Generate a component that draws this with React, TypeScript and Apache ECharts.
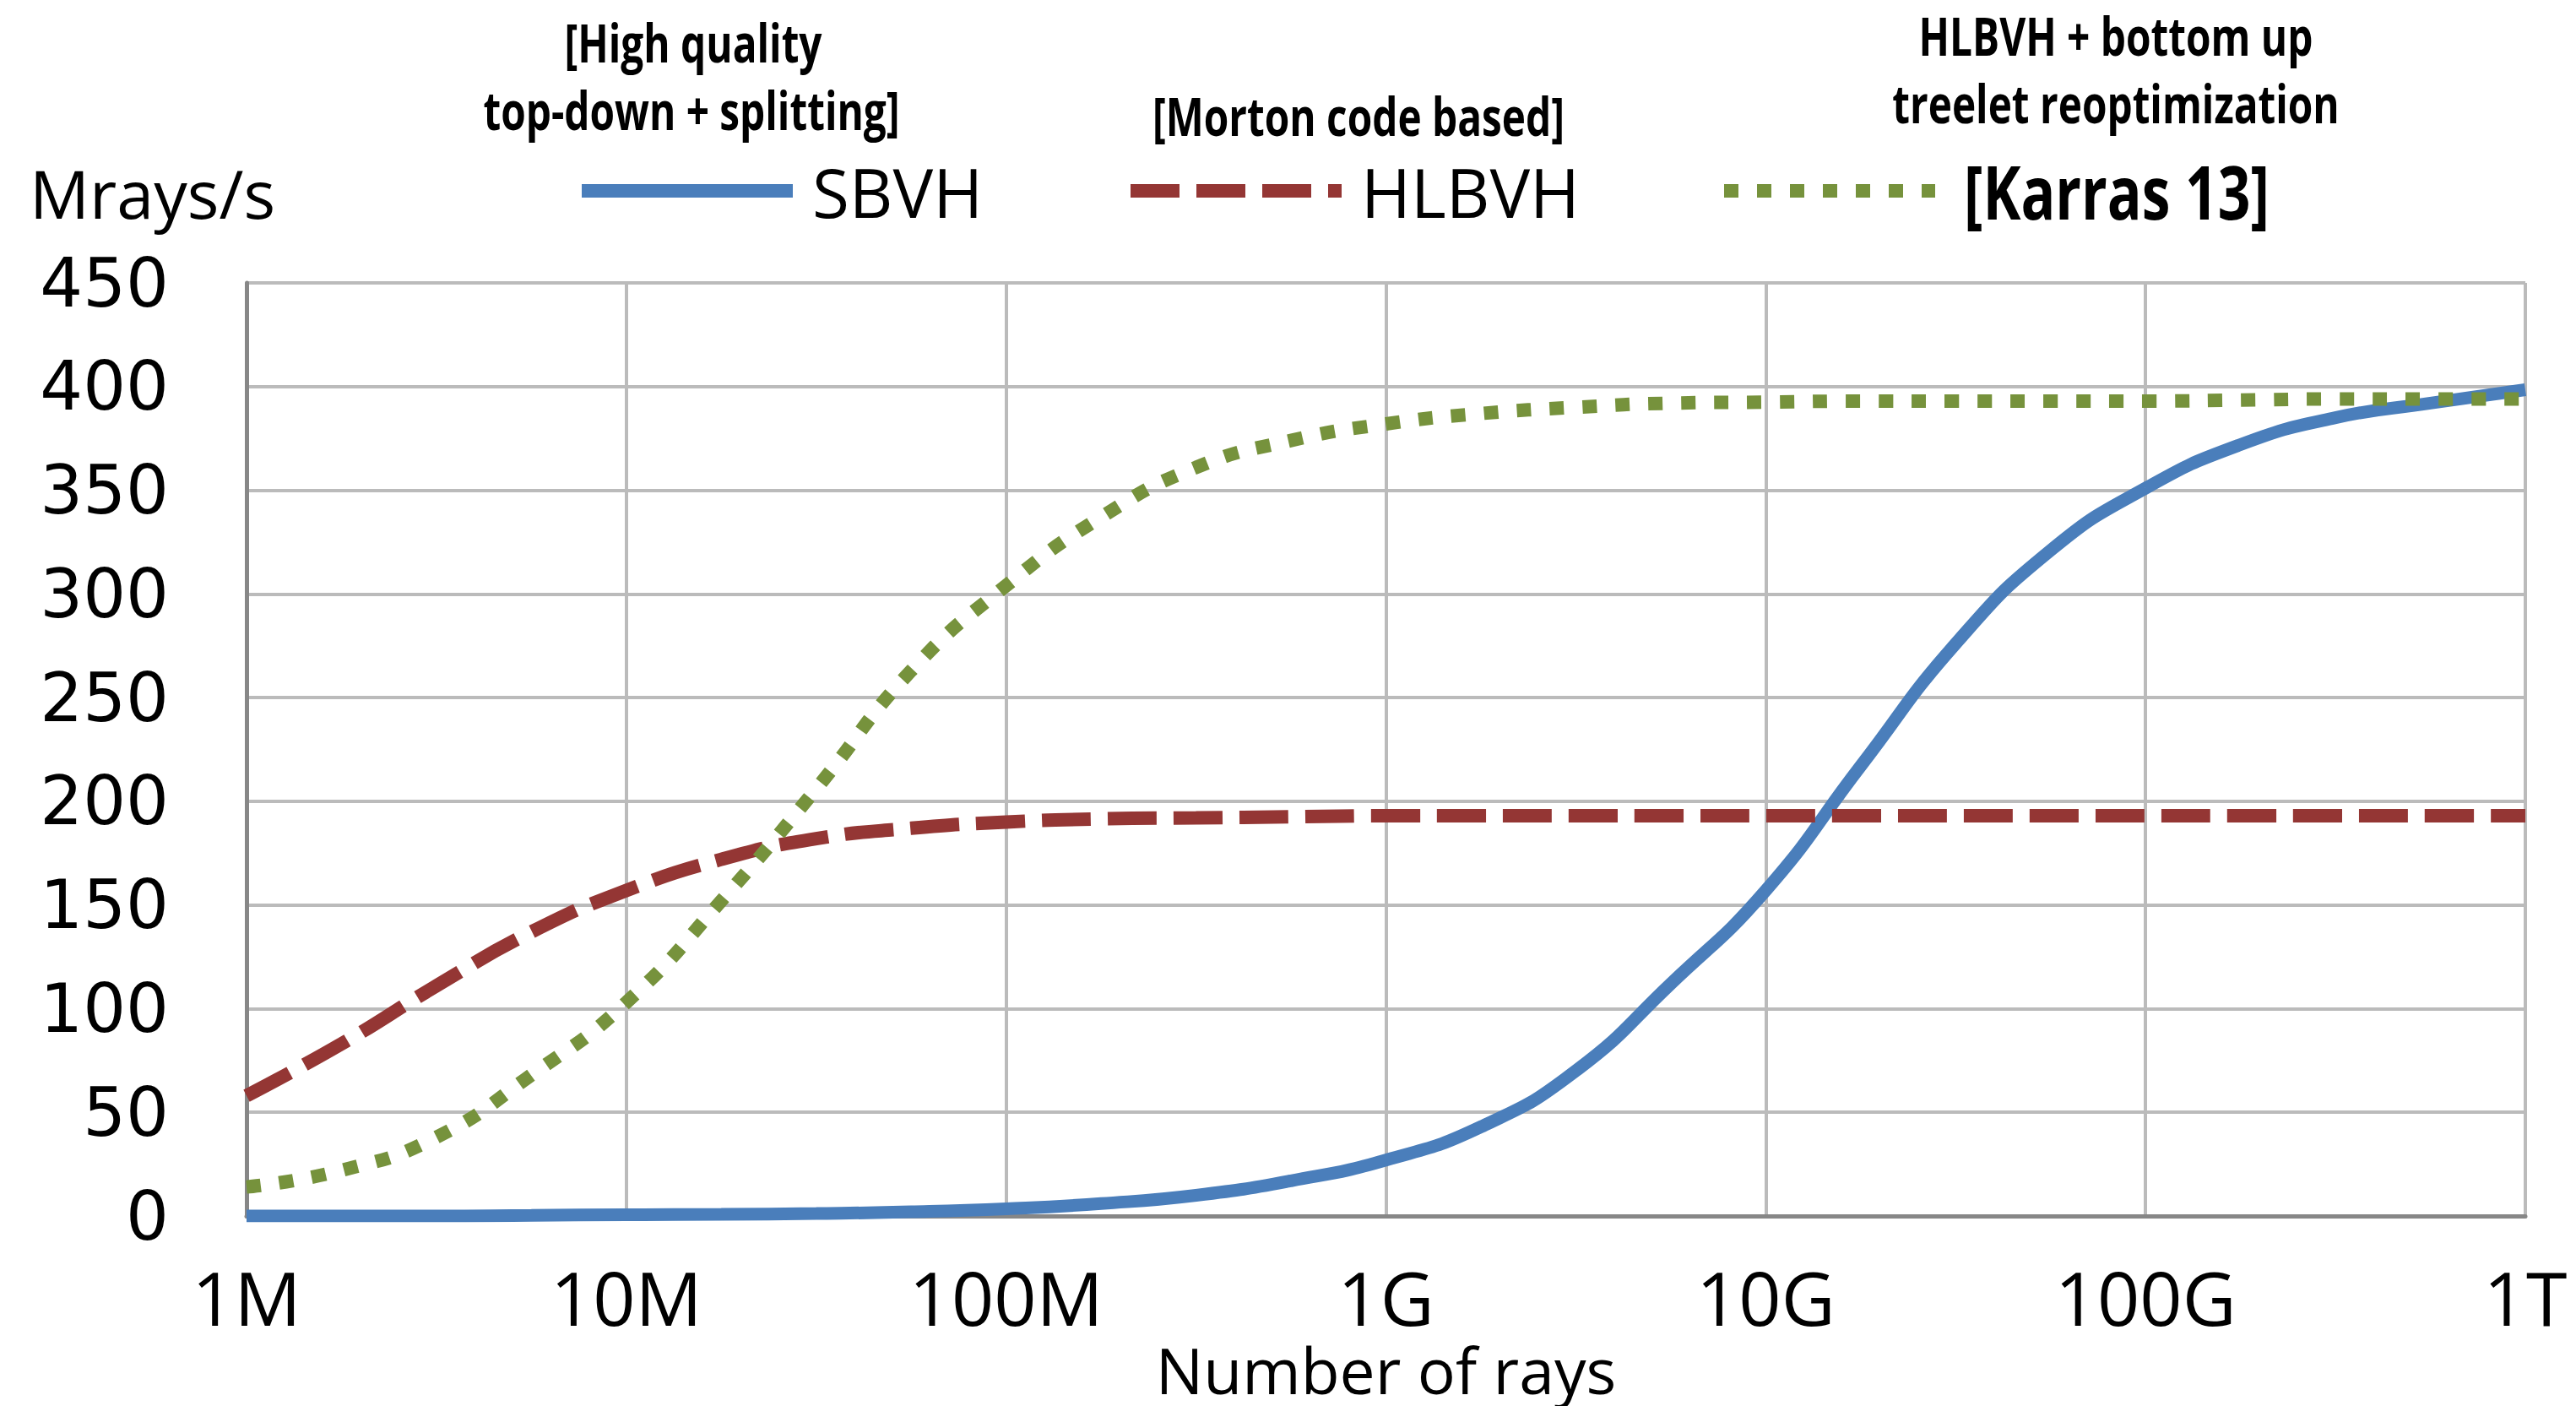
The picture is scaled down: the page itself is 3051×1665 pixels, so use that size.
import React, { useEffect, useRef } from "react";
import * as echarts from "echarts";

// log10(number of rays)
const xLog = [6, 6.25, 6.5, 6.75, 7, 7.25, 7.5, 7.75, 8, 8.25, 8.5, 8.75, 9, 9.25, 9.5, 9.75, 10, 10.25, 10.5, 10.75, 11, 11.25, 11.5, 11.75, 12];
const xTickLabels = ["1M", "10M", "100M", "1G", "10G", "100G", "1T"];
const sbvh = [0, 0, 0, 0.3, 0.6, 0.8, 1.2, 2, 3.5, 6, 10, 17, 27, 43, 70, 112, 157, 217, 276, 321, 351, 372, 385, 392, 398.5];
const hlbvh = [58, 83, 111, 137, 157, 172, 182, 187, 190, 191.5, 192, 192.5, 193, 193, 193, 193, 193, 193, 193, 193, 193, 193, 193, 193, 193];
const karras = [14, 22, 38, 68, 103, 152, 206, 263, 304, 337, 361, 374, 382, 387, 390, 392, 392.5, 393, 393, 393, 393, 393.5, 394, 394, 394];
const seriesNames = ["SBVH", "HLBVH", "[Karras 13]"];
const yTicks = { min: 0, max: 450, interval: 50 };

const pairs = (ys: number[]) => xLog.map((x, i) => [x, ys[i]]);

export default function App() {
  const ref = useRef<HTMLDivElement>(null);
  useEffect(() => {
    const chart = echarts.init(ref.current!, undefined, { renderer: "svg" });
    const note = (text: string, x: number, y: number, sx: number, size = 62) => ({
      type: "text",
      x,
      y,
      scaleX: sx,
      style: {
        text,
        textAlign: "center",
        textVerticalAlign: "middle",
        font: `bold ${size}px "Open Sans"`,
        fill: "#000",
      },
    });
    const legendBase = {
      orient: "horizontal",
      padding: 0,
      itemWidth: 250,
      itemHeight: 20,
      itemGap: 0,
      top: 186,
      selectedMode: false,
      lineStyle: { width: 16, cap: "butt" },
      itemStyle: { opacity: 0 },
    };
    chart.setOption({
      animation: false,
      backgroundColor: "#fff",
      grid: { left: 292, right: 60, top: 335, bottom: 225, containLabel: false },
      legend: [
        { ...legendBase, left: 681, data: [seriesNames[0]], textStyle: { fontFamily: "Open Sans", fontSize: 80, color: "#000", padding: [0, 0, 0, 18] } },
        { ...legendBase, left: 1331, data: [seriesNames[1]], textStyle: { fontFamily: "Open Sans", fontSize: 80, color: "#000", padding: [0, 0, 0, 18] } },
        { ...legendBase, left: 2034, top: 216, data: [seriesNames[2]], formatter: () => "", textStyle: { fontSize: 20 } },
      ],
      xAxis: {
        type: "value",
        min: 6,
        max: 12,
        interval: 1,
        name: "Number of rays",
        nameLocation: "middle",
        nameGap: 140,
        nameTextStyle: { fontFamily: "Open Sans", fontSize: 75, lineHeight: 56, color: "#000" },
        axisLine: { show: true, lineStyle: { color: "#878787", width: 5 } },
        axisTick: { show: false },
        axisLabel: {
          margin: 52,
          fontFamily: "Open Sans",
          fontSize: 88,
          color: "#000",
          formatter: (v: number) => xTickLabels[Math.round(v - 6)] ?? "",
        },
        splitLine: { show: true, lineStyle: { color: "#BBBBBB", width: 4 } },
      },
      yAxis: {
        type: "value",
        min: yTicks.min,
        max: yTicks.max,
        interval: yTicks.interval,
        axisLine: { show: true, lineStyle: { color: "#878787", width: 5 } },
        axisTick: { show: false },
        axisLabel: { margin: 92, fontFamily: "DejaVu Sans", fontSize: 80, color: "#000" },
        splitLine: { show: true, lineStyle: { color: "#BBBBBB", width: 4 } },
      },
      graphic: [
        { type: "text", x: 35, y: 228, style: { text: "Mrays/s", textVerticalAlign: "middle", font: '79px "Open Sans"', fill: "#000" } },
        note("[High quality", 821, 50, 0.77),
        note("top-down + splitting]", 819, 130, 0.77),
        note("[Morton code based]", 1609, 137, 0.77),
        note("HLBVH + bottom up", 2506, 42, 0.77),
        note("treelet reoptimization", 2506, 122, 0.77),
        {
          type: "text",
          x: 2326,
          y: 226,
          scaleX: 0.77,
          style: {
            text: "[Karras 13]",
            textAlign: "left",
            textVerticalAlign: "middle",
            font: 'bold 88px "Open Sans"',
            fill: "#000",
          },
        },
      ],
      series: [
        {
          name: seriesNames[0],
          type: "line",
          data: pairs(sbvh),
          smooth: true,
          symbol: "none",
          lineStyle: { color: "#4A7EBB", width: 15 },
          itemStyle: { color: "#4A7EBB" },
        },
        {
          name: seriesNames[1],
          type: "line",
          data: pairs(hlbvh),
          smooth: true,
          symbol: "none",
          lineStyle: { color: "#943634", width: 16, type: [58, 20], cap: "butt" },
          itemStyle: { color: "#943634" },
        },
        {
          name: seriesNames[2],
          type: "line",
          data: pairs(karras),
          smooth: true,
          symbol: "none",
          lineStyle: { color: "#76923C", width: 16, type: [17, 22], cap: "butt" },
          itemStyle: { color: "#76923C" },
        },
      ],
    });
    return () => chart.dispose();
  }, []);
  return <div ref={ref} style={{ position: "fixed", left: 0, top: 0, width: 3051, height: 1665 }} />;
}
